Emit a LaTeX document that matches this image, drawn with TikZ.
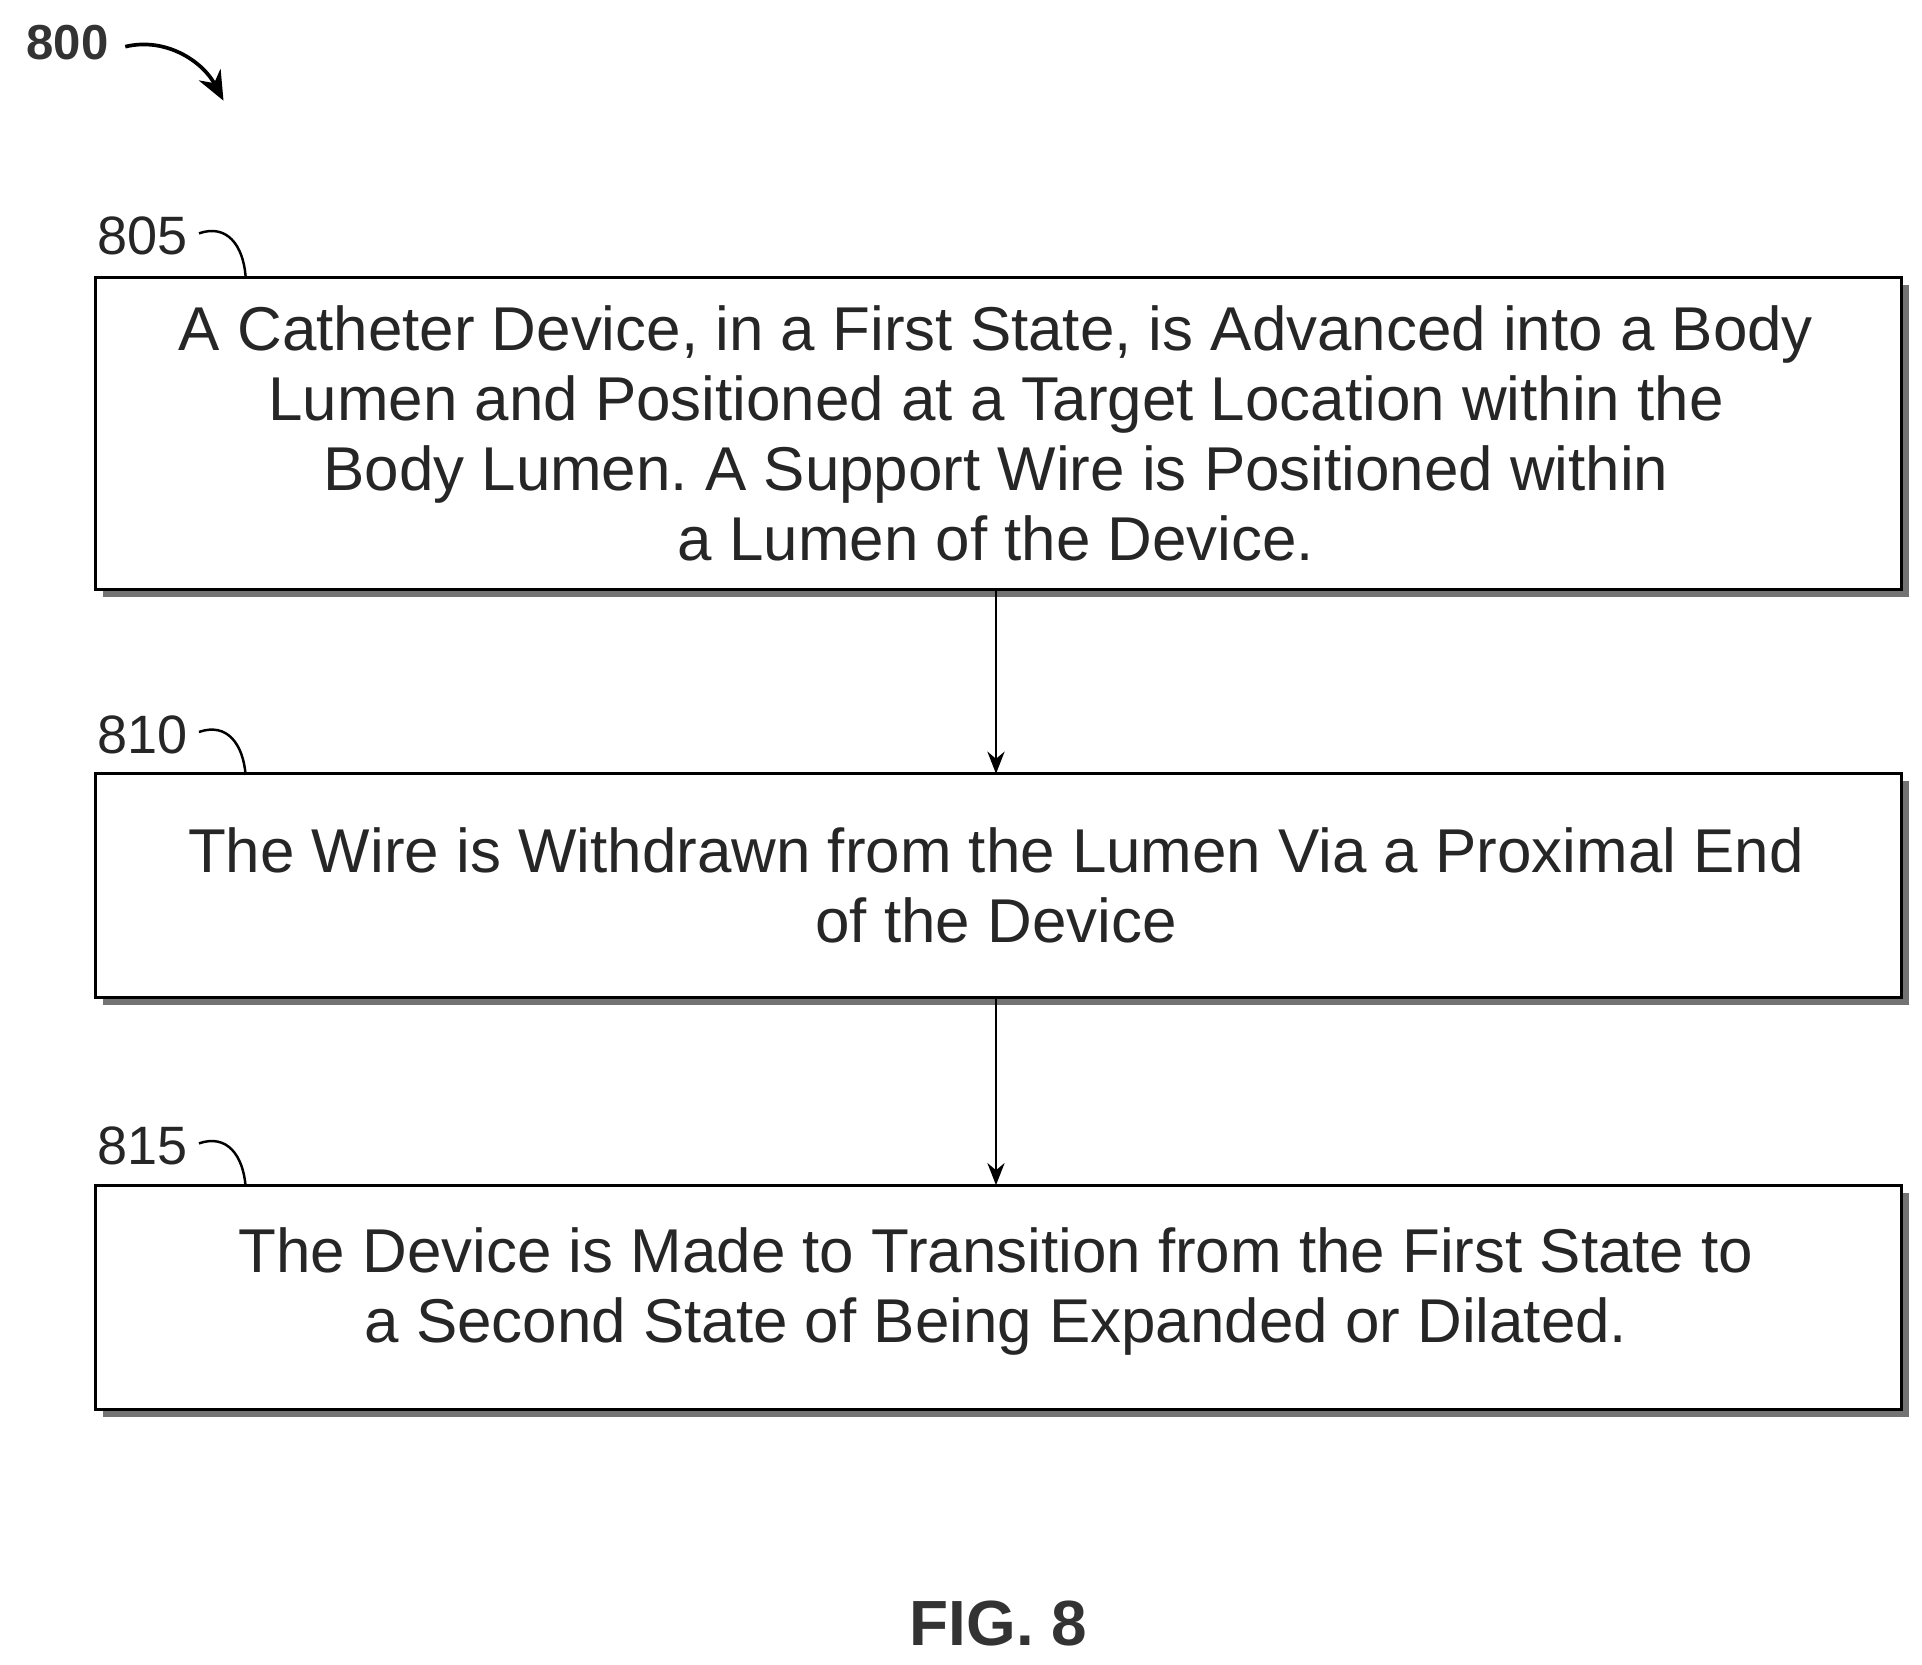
\documentclass[tikz,border=0pt]{standalone}
\usepackage{fontspec}
\setmainfont{Liberation Sans}
\usetikzlibrary{arrows.meta}
\frenchspacing
\begin{document}
\begin{tikzpicture}[x=0.5pt,y=-0.5pt,
  stepbox/.style={draw,line width=1.2pt,fill=white},
  shadowbox/.style={fill=black!55},
  txt/.style={align=center,font=\fontsize{25.2}{28.5}\selectfont,text=black!85},
  lbl/.style={font=\fontsize{22}{24}\selectfont,text=black!85},
  conn/.style={line width=1pt,-{Stealth[length=9pt,width=7pt]}},
  lead/.style={line width=1pt}]
\useasboundingbox (0,0) rectangle (1565,1355);
\fill[shadowbox] (84,232) rectangle (1554,486);
\fill[shadowbox] (84,636) rectangle (1554,818);
\fill[shadowbox] (84,971) rectangle (1554,1154);
\draw[stepbox] (78,226) rectangle (1548,480);
\draw[stepbox] (78,630) rectangle (1548,812);
\draw[stepbox] (78,965) rectangle (1548,1148);
\node[txt] (b1) at (811,353) {A Catheter Device, in a First State, is Advanced into a Body\\Lumen and Positioned at a Target Location within the\\Body Lumen. A Support Wire is Positioned within\\a Lumen of the Device.};
\node[txt] (b2) at (811,721) {The Wire is Withdrawn from the Lumen Via a Proximal End\\of the Device};
\node[txt] (b3) at (811,1052) {The Device is Made to Transition from the First State to\\a Second State of Being Expanded or Dilated.};
\coordinate (t1) at (811,480); \coordinate (h2) at (811,630);
\coordinate (t2) at (811,812); \coordinate (h3) at (811,965);
\draw[conn] (t1) -- (h2);
\draw[conn] (t2) -- (h3);
\node[lbl] (l805) at (116,192) {805};
\node[lbl] (l810) at (116,598) {810};
\node[lbl] (l815) at (116,933) {815};
\foreach \y in {190,596,931}{
  \draw[lead] (162,\y) .. controls (185,\y-8) and (198,\y+10) .. (200,\y+35);
}
\node[font=\fontsize{20}{24}\selectfont\bfseries,text=black!80] (l800) at (55,35) {800};
\coordinate (a800) at (182,82);
\draw[line width=1.5pt,-{Stealth[length=12pt,width=10pt]}] (102,38) .. controls (135,30) and (165,50) .. (a800);
\node[font=\fontsize{26}{30}\selectfont\bfseries,text=black!80] (fig) at (813,1322) {FIG. 8};
\end{tikzpicture}
\end{document}
